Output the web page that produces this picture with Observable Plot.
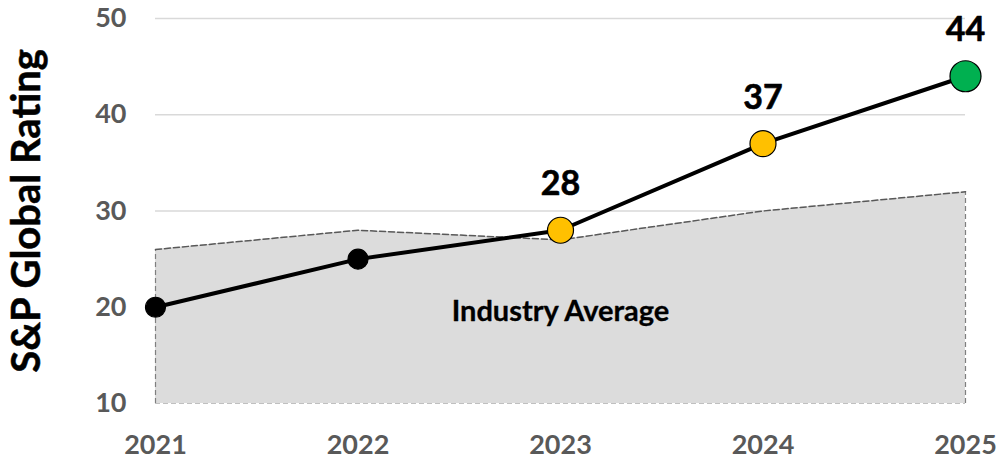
<!DOCTYPE html>
<html>
<head>
<meta charset="utf-8">
<script src="https://cdn.jsdelivr.net/npm/d3@7"></script>
<script src="https://cdn.jsdelivr.net/npm/@observablehq/plot@0.6"></script>
<style>
  html, body { margin: 0; padding: 0; background: #fff; }
  #chart svg { display: block; }
</style>
</head>
<body>
<div id="chart"></div>
<script>
// ---- data ----
const years = [2021, 2022, 2023, 2024, 2025];
const ratings = [20, 25, 28, 37, 44];
const industryAverage = [26, 28, 27, 30, 32];
const labeledYears = [2023, 2024, 2025];
const yTicks = [10, 20, 30, 40, 50];
const yTitle = "S&P Global Rating";
const areaLabel = "Industry Average";

// ---- tables ----
const company = years.map((year, i) => ({year, value: ratings[i]}));
const industry = years.map((year, i) => ({year, value: industryAverage[i]}));
const labeled = company.filter(d => labeledYears.includes(d.year));
const edges = [industry[0], industry[industry.length - 1]];

const black = "#000000", yellow = "#FFC000", green = "#00B050";
const markerFill = d => d.year === 2025 ? green : d.year >= 2023 ? yellow : black;
const markerR = d => d.year === 2025 ? 15.5 : d.year >= 2023 ? 13 : 10;

const chart = Plot.plot({
  width: 1000,
  height: 462,
  marginLeft: 155,
  marginRight: 35,
  marginTop: 18,
  marginBottom: 59,
  style: {fontFamily: "Lato, 'Open Sans', sans-serif", fontWeight: "bold", background: "#fff"},
  x: {type: "linear", domain: [2021, 2025]},
  y: {domain: [10, 50]},
  r: {type: "identity"},
  marks: [
    Plot.ruleY(yTicks.slice(1), {stroke: "#d9d9d9", strokeWidth: 1.5}),
    Plot.areaY(industry, {x: "year", y1: 10, y2: "value", fill: "#dcdcdc"}),
    Plot.ruleY([10], {stroke: "#c0c0c0", strokeWidth: 1.2, strokeDasharray: "5,3"}),
    Plot.ruleX(edges, {x: "year", y1: 10, y2: "value", stroke: "#7f7f7f", strokeWidth: 1.2, strokeDasharray: "5,3"}),
    Plot.line(industry, {x: "year", y: "value", stroke: "#595959", strokeWidth: 1.5, strokeDasharray: "6,3"}),
    Plot.line(company, {x: "year", y: "value", stroke: "#000", strokeWidth: 4}),
    Plot.dot(company, {x: "year", y: "value", r: markerR, fill: markerFill, stroke: "#000", strokeWidth: 1.2}),
    Plot.text(labeled, {x: "year", y: "value", text: d => String(d.value), dy: -46, lineAnchor: "middle", fontSize: 34, fill: "#000", stroke: "#000", strokeWidth: 0.6}),
    Plot.text([areaLabel], {x: () => 2023, y: () => 19.5, text: d => d, fontSize: 29, fill: "#000", stroke: "#000", strokeWidth: 0.3}),
    Plot.axisX({ticks: years, tickFormat: "d", tickSize: 0, tickPadding: 31, fontSize: 27, fill: "#595959", stroke: "#595959", strokeWidth: 0.5, label: null}),
    Plot.axisY({ticks: yTicks, tickSize: 0, tickPadding: 29, fontSize: 27, fill: "#595959", stroke: "#595959", strokeWidth: 0.5, label: null}),
    Plot.text([yTitle], {frameAnchor: "left", text: d => d, rotate: -90, dx: -128, textAnchor: "middle", fontSize: 40, fill: "#000", stroke: "#000", strokeWidth: 0.5, lineAnchor: "middle"})
  ]
});
document.getElementById("chart").appendChild(chart);
</script>
</body>
</html>
